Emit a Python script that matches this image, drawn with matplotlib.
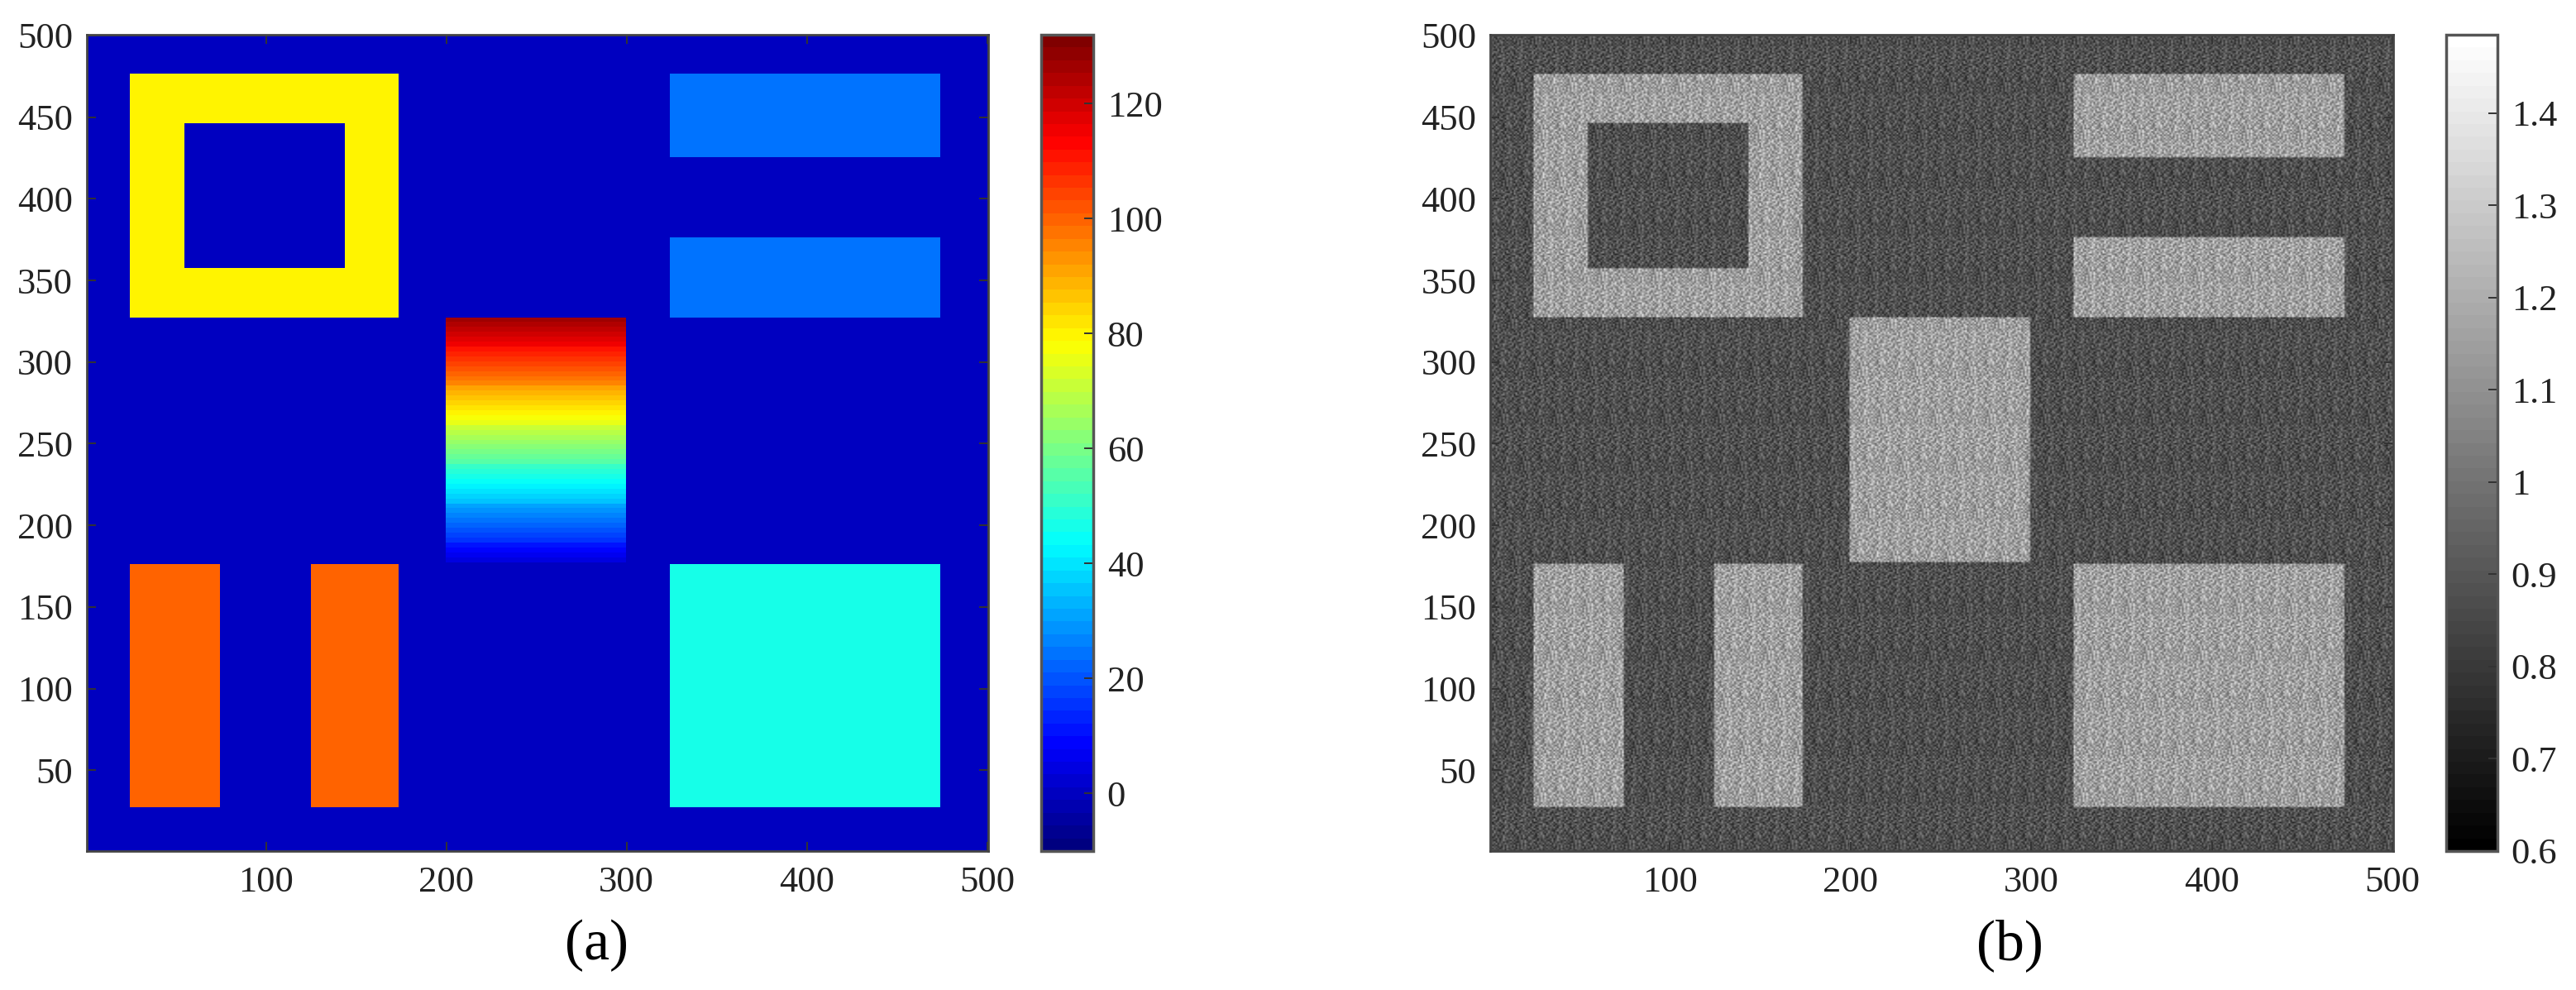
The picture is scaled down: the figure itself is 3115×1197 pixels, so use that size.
import numpy as np
import matplotlib
matplotlib.use('Agg')
import matplotlib.pyplot as plt
from matplotlib.colors import LinearSegmentedColormap

plt.rcParams['font.family'] = ['Liberation Serif', 'DejaVu Serif']

# Region extents (image rows/columns, end exclusive)
ring_x = [24, 173]
ring_y = [327, 476]
hole_x = [54, 143]
hole_y = [357, 446]
bar_x = [[24, 74], [124, 173]]
bar_y = [27, 176]
strip_x = [323, 473]
strip_y = [[425, 476], [327, 376]]
square_x = [323, 473]
square_y = [27, 176]
ramp_x = [199, 299]
ramp_y = [177, 327]

# Intensity of each region in panel (a), read through the colorbar
val_background = 0
val_ring = 80
val_bars = 100
val_strips = 25
val_square = 46
# ramp read bottom to top, one value for every 3 rows
ramp_values = [5, 7, 9.5, 12, 14.5, 17, 19.5, 22, 24.5, 27,
               29.5, 32, 34.5, 37, 39.5, 42, 44.5, 47, 49.5, 52,
               54.5, 57, 59.5, 62, 64.5, 67, 69.5, 72, 74.5, 77,
               79.5, 82, 84.5, 87, 89.5, 92, 94.5, 97, 99.5, 102,
               104.5, 107, 109.5, 112, 114.5, 117, 119.5, 122, 124.5, 127]

# Panel (b) levels
level_dark = 0.87
level_bright = 1.14

# Speckle: grey steps estimated by eye from crops of panel (b), repeated over
# the image. It copies the texture only, these are not the real pixel values.
speckle_rows = [
    '4635274518 6342753164 5273846152',
    '5273614836 2574163857 3416258473',
    '3846251739 4615382746 5827341695',
    '6152483627 3748152639 4163572841',
    '2739164585 6251473826 3594716258',
    '4581637242 5836214759 6247138563',
    '7314825963 4172635848 2536941724',
    '3562714838 5946327151 4783261536',
    '5148362975 2635417386 1954327648',
    '4726153844 7381546293 5268314759',
    '1853647262 4516283745 7342618594',
    '6294735186 3725841654 3917452683',
    '3475216849 5163792438 6482157346',
    '5816342753 6492517384 2735841962',
    '2647583196 3857142665 4158236745',
    '4953716248 1674385293 5624713858',
    '7238451665 3942156847 3816574229',
    '3164827595 7258364135 6493125784',
    '5742396184 2615738946 4271863553',
    '2586174437 5493162758 3645917284',
    '6419253876 4182765335 8253146697',
    '3875642149 6537241894 1764582336',
    '5261738954 3846159276 4935276148',
    '4693152768 5172843569 2618347455',
    '7158364426 2965714383 5374682916',
    '2436875195 4318526747 6852193464',
    '5684219373 7645238159 3146758526',
    '3927546184 1583672946 7425361858',
    '6345182759 4267915386 2583946174',
]
# sideways shift of each repeat of the table, so no regular lattice shows
tile_shifts = [0, 11, 4, 23, 17, 7, 27, 13, 2, 20, 9, 25, 15, 5, 22, 12, 28, 8]

# Colorbar ticks
ticks_a = [0, 20, 40, 60, 80, 100, 120]
labels_a = ['0', '20', '40', '60', '80', '100', '120']
ticks_b = [0.6, 0.7, 0.8, 0.9, 1.0, 1.1, 1.2, 1.3, 1.4]
labels_b = ['0.6', '0.7', '0.8', '0.9', '1', '1.1', '1.2', '1.3', '1.4']
x_ticks = [100, 200, 300, 400, 500]
y_ticks = [50, 100, 150, 200, 250, 300, 350, 400, 450, 500]

# MATLAB style jet, the reference bands sit on these anchors
jet_anchors = {
    'red': [(0, 0, 0), (0.375, 0, 0), (0.625, 1, 1), (0.875, 1, 1), (1, 0.5, 0.5)],
    'green': [(0, 0, 0), (0.125, 0, 0), (0.375, 1, 1), (0.625, 1, 1), (0.875, 0, 0), (1, 0, 0)],
    'blue': [(0, 0.5, 0.5), (0.125, 1, 1), (0.375, 1, 1), (0.625, 0, 0), (1, 0, 0)],
}
jet64 = LinearSegmentedColormap('jet64', jet_anchors, N=64)

# Panel (a) image
img_a = np.full((500, 500), float(val_background))
img_a[ring_y[0]:ring_y[1], ring_x[0]:ring_x[1]] = val_ring
img_a[hole_y[0]:hole_y[1], hole_x[0]:hole_x[1]] = val_background
for bx in bar_x:
    img_a[bar_y[0]:bar_y[1], bx[0]:bx[1]] = val_bars
for sy in strip_y:
    img_a[sy[0]:sy[1], strip_x[0]:strip_x[1]] = val_strips
img_a[square_y[0]:square_y[1], square_x[0]:square_x[1]] = val_square
ramp_rows = np.repeat(ramp_values, 3)[:ramp_y[1] - ramp_y[0]]
img_a[ramp_y[0]:ramp_y[1], ramp_x[0]:ramp_x[1]] = ramp_rows[:, None]

# Panel (b) image
mask = img_a > 0
tile = np.array([[int(c) for c in r.replace(' ', '')] for r in speckle_rows], dtype=float)
strip_blocks = [np.tile(np.roll(tile, s, axis=1), (1, 17)) for s in tile_shifts]
speckle = np.vstack(strip_blocks)[:500, :500]
img_b = np.where(mask, level_bright, level_dark) * (1 + (speckle - 4.5) * 0.045)

W, H = 3115, 1197
fig = plt.figure(figsize=(W / 100, H / 100), dpi=100)


def box(x0, x1, y0, y1):
    # pixel box in the picture -> figure fractions
    return [x0 / W, 1 - y1 / H, (x1 - x0) / W, (y1 - y0) / H]


def panel(ax_box, cax_box, img, cmap, vmin, vmax, ticks, labels, letter, letter_x, interp):
    ax = fig.add_axes(box(*ax_box))
    im = ax.imshow(img, origin='lower', cmap=cmap, vmin=vmin, vmax=vmax, aspect='auto',
                   extent=(0.5, 500.5, 0.5, 500.5), interpolation=interp)
    ax.set_xticks(x_ticks)
    ax.set_yticks(y_ticks)
    ax.tick_params(direction='in', length=8, width=1.4, color='#333333', labelsize=32,
                   top=True, right=True, labelcolor='#222222')
    ax.tick_params(axis='x', pad=13)
    ax.tick_params(axis='y', pad=12)
    fig.text(letter_x / W, 1 - 1160 / H, letter, fontsize=50, ha='center', va='baseline',
             color='black')
    cax = fig.add_axes(box(*cax_box))
    cb = fig.colorbar(im, cax=cax)
    cb.set_ticks(ticks)
    cb.set_ticklabels(labels)
    cax.tick_params(direction='in', length=8, width=1.4, color='#333333', labelsize=32,
                    pad=12, labelcolor='#222222')
    for a in (ax, cax):
        for s in a.spines.values():
            s.set_color('#444444')
            s.set_linewidth(2)
    cb.outline.set_edgecolor('#555555')
    cb.outline.set_linewidth(2.5)


panel((104.6, 1195, 42, 1029), (1259, 1322, 42, 1029), img_a, jet64,
      -10, 132, ticks_a, labels_a, '(a)', 722, 'nearest')
panel((1802, 2894, 42, 1029), (2958, 3020, 42, 1029), img_b, plt.get_cmap('gray', 64),
      0.6, 1.485, ticks_b, labels_b, '(b)', 2430, 'bilinear')

fig.savefig('out.png', dpi=100)
